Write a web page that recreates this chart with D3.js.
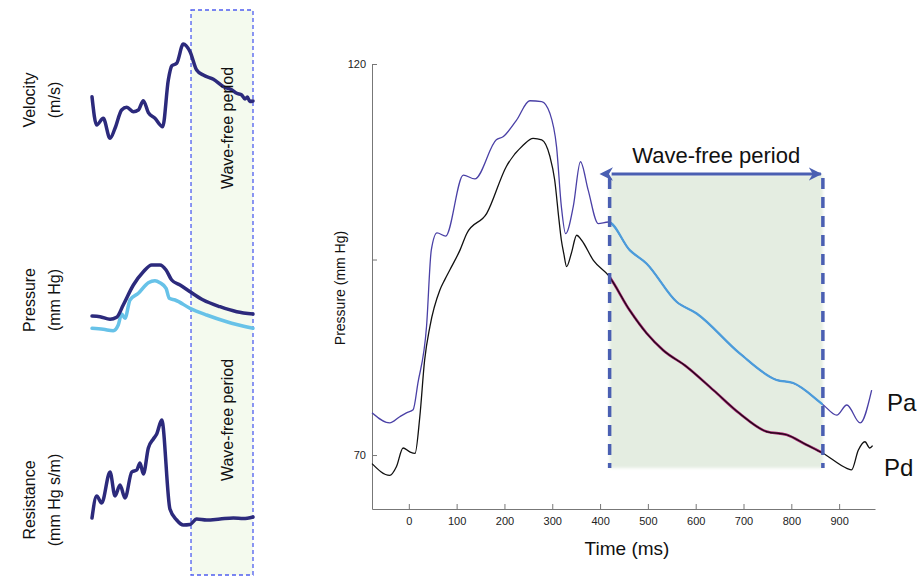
<!DOCTYPE html>
<html lang="en">
<head>
    <meta charset="UTF-8">
    <script src="https://d3js.org/d3.v7.min.js"></script>
    <title>Wave-free period</title>
    <style>
        body { margin: 0; background: #fff; }
        svg { font-family: "Liberation Sans", Arial, sans-serif; }
        .axis path, .axis line { stroke: #777; }
        .axis text { font-size: 11px; fill: #222; }
    </style>
</head>
<body>
    <svg width="919" height="579"></svg>
    <script>
        // main chart: time in ms, pressure in mm Hg
        var paTime = [-77, -40, -19, -5, 9, 19, 37, 47, 59, 77, 114, 138, 183, 197, 225, 253, 278, 295, 309, 319, 328, 344, 359, 375, 396, 417,
                      462, 497, 560, 602, 692, 769, 804, 867, 895, 916, 944, 968];
        var paValue = [75.4, 74.1, 74.9, 75.4, 75.8, 79.2, 86.4, 96.2, 98.4, 98.0, 105.8, 105.3, 110.3, 110.7, 112.8, 115.3, 115.2, 113.7, 109.4, 101.8, 98.3, 101.8, 107.5, 103.9, 99.6, 99.8,
                       96.2, 94.5, 89.6, 88.1, 83.0, 79.6, 79.2, 76.4, 75.1, 76.4, 74.1, 78.3];
        var pdTime = [-77, -40, -26, -12, 2, 13, 23, 33, 44, 65, 75, 86, 107, 121, 163, 204, 239, 260, 278, 295, 305, 314, 319, 324, 330, 340, 351, 361, 386, 417,
                      462, 497, 532, 581, 637, 692, 748, 790, 832, 867, 916, 926, 940, 954, 964, 970];
        var pdValue = [68.9, 67.4, 68.5, 70.9, 70.4, 70.2, 74.9, 82.1, 86.4, 91.1, 92.4, 93.7, 96.2, 98.3, 100.9, 106.9, 109.6, 110.5, 110.3, 108.2, 105.2, 100.1, 97.5, 95.8, 94.1, 95.8, 98.1, 97.5, 94.9, 93.0,
                       88.5, 85.6, 83.4, 81.3, 78.3, 75.3, 73.0, 72.6, 71.3, 70.2, 68.3, 68.1, 70.6, 71.7, 70.9, 71.2];
        var wfStart = 420, wfEnd = 866;
        var xTicks = [0, 100, 200, 300, 400, 500, 600, 700, 800, 900];
        var yTicks = [70, 95, 120];
        var yLabelled = [70, 120];

        // small panels: fraction of the shown beat, arbitrary units
        var velFrac = [0, 0.029, 0.070, 0.112, 0.143, 0.184, 0.216, 0.257, 0.288, 0.319, 0.350, 0.391, 0.439, 0.474, 0.495, 0.526, 0.567, 0.609, 0.650, 0.691, 0.754, 0.817, 0.870, 0.899, 0.930, 0.950, 0.965, 0.980, 1.0];
        var velValue = [43.3, 15, 21.7, 1.7, 11.7, 30, 32.7, 28.3, 30, 39.3, 27.3, 21.7, 13.3, 60, 74, 76.7, 96, 88.3, 70, 65, 60.7, 53.3, 50, 46.7, 45, 41, 43, 38.5, 39];
        var paSmallFrac = [0, 0.05, 0.112, 0.153, 0.194, 0.257, 0.319, 0.371, 0.422, 0.460, 0.495, 0.547, 0.609, 0.691, 0.795, 0.899, 1.0];
        var paSmallValue = [19, 18.3, 15.7, 17.7, 30, 50, 63.3, 70, 70, 65, 55, 50, 43.3, 35, 28.3, 23.3, 21];
        var pdSmallFrac = [0, 0.070, 0.132, 0.163, 0.184, 0.205, 0.236, 0.288, 0.350, 0.391, 0.422, 0.460, 0.480, 0.516, 0.609, 0.712, 0.837, 1.0];
        var pdSmallValue = [6.7, 5.7, 4.3, 10, 21, 16.7, 35, 41.7, 52.3, 54.3, 52.3, 46.7, 36.7, 35, 26.7, 20, 13.3, 6.7];
        var resFrac = [0, 0.029, 0.060, 0.112, 0.143, 0.174, 0.205, 0.247, 0.278, 0.298, 0.319, 0.350, 0.381, 0.402, 0.433, 0.484, 0.526, 0.567, 0.609, 0.650, 0.712, 0.795, 0.878, 0.940, 1.0];
        var resValue = [12, 34, 27, 58, 34, 45, 32, 58, 60, 67, 56, 82, 91, 96, 110, 21, 10, 5, 5.5, 11, 10, 11, 12, 11.4, 13];
        var smallWfStart = 0.615;

        var svg = d3.select("svg");
        var defs = svg.append("defs");

        // ---------- left panels ----------
        var sx = d3.scaleLinear().domain([0, 1]).range([92, 253]);

        svg.append("rect")
            .attr("x", sx(smallWfStart)).attr("y", 10)
            .attr("width", sx(1) - sx(smallWfStart)).attr("height", 565)
            .attr("fill", "#f4faee")
            .attr("stroke", "#4f5ef0").attr("stroke-width", 1.3)
            .attr("stroke-dasharray", "4,3");

        var panels = [
            { lines: [[velFrac, velValue, "#2c2a7c"]], range: [140, 30], title: ["Velocity", "(m/s)"], cy: 100 },
            { lines: [[pdSmallFrac, pdSmallValue, "#67c2e8"], [paSmallFrac, paSmallValue, "#2c2a7c"]], range: [335, 255], title: ["Pressure", "(mm Hg)"], cy: 300 },
            { lines: [[resFrac, resValue, "#2c2a7c"]], range: [530, 410], title: ["Resistance", "(mm Hg s/m)"], cy: 500 }
        ];

        panels.forEach(function(p) {
            var y = d3.scaleLinear().domain([0, p.range[0] - p.range[1]]).range(p.range);
            p.lines.forEach(function(l) {
                var pts = l[0].map((f, i) => [f, l[1][i]]);
                svg.append("path")
                    .attr("d", d3.line().x(d => sx(d[0])).y(d => y(d[1])).curve(d3.curveMonotoneX)(pts))
                    .attr("fill", "none").attr("stroke", l[2])
                    .attr("stroke-width", 3.5).attr("stroke-linejoin", "round").attr("stroke-linecap", "round");
            });
            p.title.forEach(function(t, i) {
                svg.append("text")
                    .attr("transform", "translate(" + (35 + i * 25) + "," + p.cy + ") rotate(-90)")
                    .attr("text-anchor", "middle")
                    .attr("font-size", 16).attr("fill", "#111")
                    .text(t);
            });
        });

        [128, 420].forEach(function(cy) {
            svg.append("text")
                .attr("transform", "translate(" + 233 + "," + cy + ") rotate(-90)")
                .attr("text-anchor", "middle")
                .attr("font-size", 16).attr("fill", "#111")
                .text("Wave-free period");
        });

        // ---------- main chart ----------
        var x = d3.scaleLinear().domain([-77, 975]).range([372, 875]);
        var y = d3.scaleLinear().domain([63.1, 120]).range([509, 64]);

        defs.append("filter").attr("id", "soft")
            .append("feGaussianBlur").attr("stdDeviation", 1.5);

        svg.append("rect")
            .attr("x", x(wfStart)).attr("y", 175)
            .attr("width", x(wfEnd) - x(wfStart)).attr("height", 293)
            .attr("fill", "#e4ede1")
            .attr("filter", "url(#soft)");

        svg.append("g").attr("class", "axis")
            .attr("transform", "translate(0,509)")
            .call(d3.axisBottom(x).tickValues(xTicks).tickSizeInner(-5).tickSizeOuter(0).tickPadding(8));

        svg.append("g").attr("class", "axis")
            .attr("transform", "translate(372,0)")
            .call(d3.axisLeft(y).tickValues(yTicks).tickSizeInner(-5).tickSizeOuter(0).tickPadding(6)
                .tickFormat(d => yLabelled.indexOf(d) >= 0 ? d : ""));

        var paPts = paTime.map((t, i) => [t, paValue[i]]);
        var pdPts = pdTime.map((t, i) => [t, pdValue[i]]);
        var line = d3.line().x(d => x(d[0])).y(d => y(d[1])).curve(d3.curveMonotoneX);

        defs.append("clipPath").attr("id", "wf")
            .append("rect")
            .attr("x", x(wfStart)).attr("y", 0)
            .attr("width", x(wfEnd) - x(wfStart)).attr("height", 579);

        svg.append("path")
            .attr("d", line(paPts))
            .attr("fill", "none").attr("stroke", "#4a40a6").attr("stroke-width", 1.3);
        svg.append("path")
            .attr("d", line(paPts))
            .attr("clip-path", "url(#wf)")
            .attr("fill", "none").attr("stroke", "#4b9cdb").attr("stroke-width", 2.2);

        svg.append("path")
            .attr("d", line(pdPts))
            .attr("fill", "none").attr("stroke", "#111").attr("stroke-width", 1.3);
        svg.append("path")
            .attr("d", line(pdPts))
            .attr("clip-path", "url(#wf)")
            .attr("fill", "none").attr("stroke", "#a3206f").attr("stroke-width", 2.6);
        svg.append("path")
            .attr("d", line(pdPts))
            .attr("clip-path", "url(#wf)")
            .attr("fill", "none").attr("stroke", "#1a0a14").attr("stroke-width", 1.2);

        // dashed edges and the double arrow
        [wfStart, wfEnd].forEach(function(t) {
            svg.append("line")
                .attr("x1", x(t)).attr("x2", x(t))
                .attr("y1", 178).attr("y2", 468)
                .attr("stroke", "#4a5fb2").attr("stroke-width", 3.5)
                .attr("stroke-dasharray", "11,8");
        });

        ["arrowEnd", "arrowStart"].forEach(function(id, i) {
            defs.append("marker").attr("id", id)
                .attr("viewBox", "0 0 10 10").attr("refX", i ? 1 : 9).attr("refY", 5)
                .attr("markerWidth", 4.5).attr("markerHeight", 4.5)
                .attr("markerUnits", "strokeWidth")
                .attr("orient", "auto-start-reverse")
                .append("path").attr("d", "M0,0 L10,5 L0,10 L3,5 z").attr("fill", "#4a5fb2");
        });

        svg.append("line")
            .attr("x1", x(wfStart) + 2).attr("x2", x(wfEnd) - 2)
            .attr("y1", 174).attr("y2", 174)
            .attr("stroke", "#4a5fb2").attr("stroke-width", 3)
            .attr("marker-start", "url(#arrowStart)")
            .attr("marker-end", "url(#arrowEnd)");

        svg.append("text")
            .attr("x", (x(wfStart) + x(wfEnd)) / 2).attr("y", 163)
            .attr("text-anchor", "middle")
            .attr("font-size", 22).attr("fill", "#111")
            .text("Wave-free period");

        svg.append("text")
            .attr("x", 887).attr("y", 411)
            .attr("font-size", 24).attr("fill", "#111")
            .text("Pa");
        svg.append("text")
            .attr("x", 884).attr("y", 476)
            .attr("font-size", 24).attr("fill", "#111")
            .text("Pd");

        svg.append("text")
            .attr("x", 627).attr("y", 555)
            .attr("text-anchor", "middle")
            .attr("font-size", 19).attr("fill", "#111")
            .text("Time (ms)");

        svg.append("text")
            .attr("transform", "translate(345,288) rotate(-90)")
            .attr("text-anchor", "middle")
            .attr("font-size", 14).attr("fill", "#111")
            .text("Pressure (mm Hg)");
    </script>
</body>
</html>
